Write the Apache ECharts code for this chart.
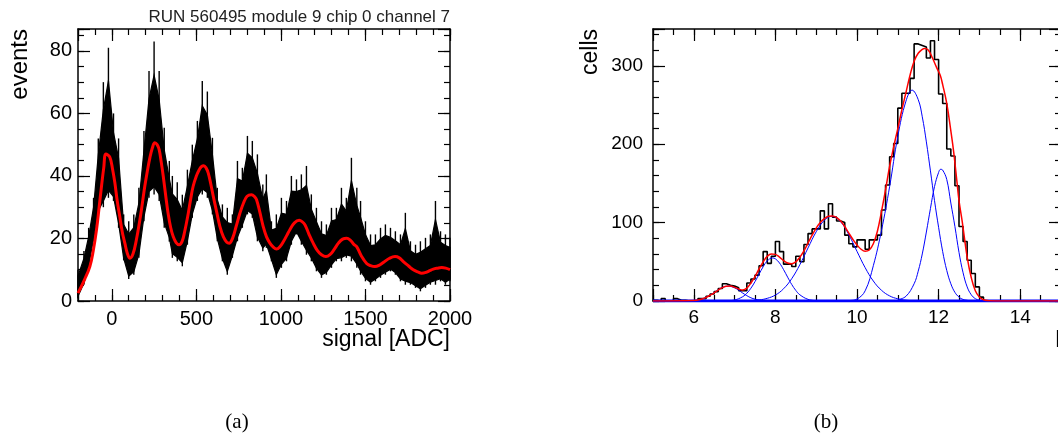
<!DOCTYPE html>
<html><head><meta charset="utf-8">
<script src="https://cdn.jsdelivr.net/npm/echarts@6/dist/echarts.min.js"></script>
<style>html,body{margin:0;padding:0;background:#fff}#c{width:1058px;height:437px}</style>
</head><body><div id="c"></div>
<script>
// ---------- Panel (a): noisy ADC spectrum (envelope per bin) ----------
const noiseX = [-200,-165,-137,-108,-80,-50,-20,10,40,70,100,130,160,190,220,250,280,310,340,
  358,387,417,447,476,506,535,565,595,624,654,683,713,743,772,802,831,861,893,
  914,944,973,1003,1033,1062,1092,1121,1151,1180,1210,1240,1269,1299,1328,1358,1387,1417,1449,
  1471,1500,1530,1559,1589,1618,1648,1677,1707,1736,1766,1796,1825,1855,1884,1914,1944,1973,2000];
const noiseHi = [10,16,23.4,33,52,70,81,60,52,27.7,25.5,27.7,36.2,54.4,73.6,83,73.6,55.4,44.8,
  40,38,34,42,50,57.6,70.4,67,52.2,36.2,30.9,29.8,27.7,44.8,42.6,52.8,51.2,46.9,37.3,
  40.5,25.5,27.7,33,32,40,38.9,40.5,43.2,34.1,29.8,25.5,24.5,29.8,29.8,36.2,33,45.8,36.2,
  32,25.5,21.3,21.3,23.4,24.5,23.4,22.3,21.3,28.2,19.1,18,19.1,20.2,21.3,32,22.3,21.3,20.2];
const noiseLo = [1,5.2,10.6,19.1,27.7,30,33,32,23.4,13,7,8.4,13.8,25.5,33,34.1,32,23.4,19,
  13.8,12.7,11.1,18,26.6,32,34.1,33,27.7,19.1,12.7,8.4,13.8,19.1,23.4,27.7,26.6,19.1,15.9,
  17,12.7,7.4,10.6,12.7,18,21.3,18,14.8,12.7,9.5,7.4,8.4,10.6,12.7,12.7,13.8,12.7,10.6,
  8.4,6.3,5.2,6.3,7.4,8.4,9.5,8.4,6.3,5.2,5.2,4.2,3.1,4.2,5.2,5.2,6.3,5.2,6.3];
// fit curve (red)
const fitAX = [-200,-160,-130,-110,-90,-75,-61,-48,-35,-12,5,18,32,47,62,77,92,107,125,145,166,180,195,210,225,240,254,268,280,292,304,318,333,348,363,380,398,415,430,452,466,481,500,517,530,544,558,570,585,600,620,639,660,680,694,715,736,757,780,800,826,845,856,875,895,915,935,955,974,995,1015,1035,1053,1080,1108,1125,1142,1165,1191,1215,1240,1266,1290,1315,1340,1365,1389,1410,1430,1448,1475,1507,1530,1556,1580,1610,1640,1675,1700,1724,1755,1783,1810,1832,1860,1880,1901,1925,1951,1975,2000];
const fitAY = [2.5,7,11,16,23,30,36.7,42.5,47,46,42,37.8,32,27,22,18.5,15.2,13.7,15,19.5,26,31,36.7,41.5,45.8,49,50.6,50,48.4,44.5,40,34,28,23.5,20.6,18.7,18,19,22,28,32.5,36.7,40,42,43,43.3,42.5,41,37.5,33.5,28.5,23.9,20.5,18.8,18.5,20.2,24,28,31.5,33.5,34,33.3,32.4,28.5,23.9,20.5,18.5,17.2,16.6,17.4,19,21,22.8,25,25.8,25.4,24.4,21.5,18.5,16.2,14.8,14.2,14.8,16.5,18.5,19.8,20.1,19.5,18.2,17.4,14.5,12,11.3,11,11.4,12.5,13.6,14.2,13.8,12.6,11.2,10,9.3,8.9,9.2,9.7,10.2,10.5,10.7,10.5,10];

// ---------- Panel (b): cells histogram + gaussian fits ----------
const histStart = 5.0, histBin = 0.1;
const histCounts = [1,0,3,0,0,3,1,1,0,0, 0,3,3,6,9,12,16,22,20,19, 17,13,13,23,28,33,45,63,48,57,
  76,63,47,47,44,57,50,72,86,92, 92,115,92,124,107,102,100,84,73,69,
  78,78,66,78,78,84,116,148,184,201, 246,265,265,284,328,326,324,310,332,308,
  264,252,194,185,147,95,76,52,35,18, 5,0,0,0,0,0,0,0,0,0, 0,0,0,0,0,0,0,0,0,0];
const fitBX = [5.0,6.0,6.2,6.3,6.4,6.5,6.6,6.7,6.8,6.9,7.0,7.1,7.2,7.3,7.4,7.5,7.6,7.7,7.8,7.9,8.0,8.1,8.2,8.3,8.4,8.5,8.6,8.7,8.8,8.9,9.0,9.1,9.2,9.3,9.4,9.5,9.6,9.7,9.8,9.9,10.0,10.1,10.2,10.3,10.4,10.5,10.6,10.7,10.8,10.9,11.0,11.1,11.2,11.3,11.4,11.5,11.6,11.66,11.75,11.85,11.95,12.04,12.1,12.2,12.3,12.37,12.45,12.5,12.58,12.7,12.8,12.9,13.0,13.1,13.25,13.4,15.0];
const fitBY = [0,0.6,2.6,4.6,7.4,10.5,14,17,18.8,19,17.4,15.2,14,16.5,23,31,41,50,57,60,59.5,56,51.5,48.5,47.5,50,56,64,74,84,93,100,105,108,108.5,106.5,102,95,86.5,78.5,71.5,66,63.5,65,73,89,114,142,172,197,220,244,266,288,306,316,321,322,320,310,298,288,276,252,217,190,152,128,101,56,30,13,5,1.5,0.2,0,0];
const g1X = [5.8,6.0,6.2,6.3,6.4,6.5,6.6,6.7,6.84,7.0,7.1,7.2,7.3,7.4,7.5,7.7,7.9];
const g1Y = [0.1,0.6,2.6,4.6,7.4,10.8,14.3,17.3,19,16.8,13.7,10.1,6.8,4.1,2.3,0.5,0.1];
const g2X = [6.8,7.0,7.2,7.3,7.4,7.5,7.6,7.7,7.8,7.93,8.0,8.1,8.2,8.3,8.4,8.5,8.6,8.8,9.0];
const g2Y = [0.2,1.3,5.5,9.9,16.3,24.7,34.3,43.7,51.1,55,53.8,48.5,40.1,30.4,21.1,13.5,7.9,2.1,0.4];
const g3X = [7.4,7.6,7.8,8.0,8.2,8.4,8.6,8.8,9.0,9.2,9.38,9.6,9.8,10.0,10.2,10.4,10.6,10.8,11.0,11.2,11.4];
const g3Y = [0.4,1.3,3.4,7.6,15.6,28.5,46.4,67.7,88.3,103,108,101,84.5,63.3,42.5,25.5,13.7,6.5,2.8,1.1,0.3];
const g4X = [9.6,9.8,10.0,10.2,10.4,10.6,10.8,11.0,11.2,11.35,11.5,11.6,11.7,11.8,11.9,12.0,12.1,12.2,12.3,12.4,12.5,12.6,12.8];
const g4Y = [0.1,0.5,2.5,13,45,90,146,210,255,269,257,235,203,166,128,94,63,39,22,11,5,2,0.2];
const g5X = [11.0,11.2,11.4,11.5,11.6,11.7,11.8,11.9,12.0,12.05,12.1,12.2,12.3,12.4,12.5,12.6,12.7,12.8,12.9,13.0,13.2];
const g5Y = [1.5,6,22,38,60,88,118,146,164,168,167,155,125,95,62,36,18,8,3,1,0.2];
const baseX = [5, 15];
const baseY = [0, 0];

// ---------- helpers ----------
const FONT = '"Liberation Sans", Arial, Helvetica, sans-serif';
const BLACK = '#000';
const pairs = (xs, ys) => xs.map((x, i) => [x, ys[i]]);

function makeAxes(kind, grid, min, max, majorInterval, minorInterval, label) {
  const positions = kind === 'x' ? ['bottom', 'top'] : ['left', 'right'];
  const out = [];
  positions.forEach((pos, k) => {
    const major = {
      type: 'value', gridIndex: grid, position: pos, min: min, max: max,
      axisLine: {show: true, onZero: false, lineStyle: {color: BLACK, width: 1.5}},
      axisTick: {show: true, inside: true, length: 12, lineStyle: {color: BLACK, width: 1.2}},
      splitLine: {show: false}, minorTick: {show: false},
      axisLabel: k === 0 ? {
        show: true, margin: label.margin, fontSize: label.size, fontFamily: FONT, color: BLACK,
        formatter: v => (Math.abs(v % label.step) < 1e-6 ? String(Math.round(v * 1000) / 1000) : '')
      } : {show: false}
    };
    if (majorInterval) major.interval = majorInterval; else major.splitNumber = 5;
    const minor = {
      type: 'value', gridIndex: grid, position: pos, min: min, max: max, interval: minorInterval,
      axisLine: {show: false, onZero: false},
      axisTick: {show: true, inside: true, length: 6, lineStyle: {color: BLACK, width: 1.2}},
      splitLine: {show: false}, axisLabel: {show: false}
    };
    out.push(major, minor);
  });
  return out;
}

const histData = histCounts.map((v, i) => [histStart + i * histBin, v]);
histData.push([histStart + histCounts.length * histBin, histCounts[histCounts.length - 1]]);

const blue = '#0000ff';
const gLine = (xs, ys) => ({
  type: 'line', xAxisIndex: 4, yAxisIndex: 4, data: pairs(xs, ys), smooth: 0.4,
  symbol: 'none', lineStyle: {color: blue, width: 1}, z: 3
});

// Noise drawn as a dense core (inner part of each bin's range) plus thin spikes reaching the extremes.
const noiseItems = noiseX.map((x, i) => [x, noiseLo[i], noiseHi[i]]);

const option = {
  animation: false,
  backgroundColor: '#fff',
  grid: [
    {left: 78, top: 29, width: 372, height: 272, outerBoundsMode: 'none', containLabel: false},
    {left: 653, top: 29, width: 408, height: 272, outerBoundsMode: 'none', containLabel: false}
  ],
  xAxis: [].concat(
    makeAxes('x', 0, -200, 2000, null, 100, {margin: 8, size: 20, step: 500}),
    makeAxes('x', 1, 5, 15, null, 0.5, {margin: 7, size: 19, step: 2})
  ),
  yAxis: [].concat(
    makeAxes('y', 0, 0, 87, 20, 5, {margin: 6, size: 20, step: 20}),
    makeAxes('y', 1, 0, 347, 100, 20, {margin: 10, size: 19, step: 100})
  ),
  series: [
    {
      // core band: one polygon through all bins
      type: 'custom', xAxisIndex: 0, yAxisIndex: 0, data: [[0]], z: 2,
      renderItem: function (params, api) {
        const top = [], bot = [];
        for (let i = 0; i < noiseItems.length; i++) {
          const [x, lo, hi] = noiseItems[i];
          const r = hi - lo;
          top.push(api.coord([x, hi - 0.22 * r]));
          bot.push(api.coord([x, lo + 0.05 * r]));
        }
        return {type: 'polygon', shape: {points: top.concat(bot.reverse())},
          style: {fill: '#000', stroke: '#000', lineWidth: 1.2}};
      }
    },
    {
      // spikes: each bin's full range
      type: 'custom', xAxisIndex: 0, yAxisIndex: 0, data: noiseItems, z: 2,
      renderItem: function (params, api) {
        const x = api.value(0);
        const p1 = api.coord([x, api.value(1)]);
        const p2 = api.coord([x, api.value(2)]);
        return {type: 'line', shape: {x1: p1[0], y1: p1[1], x2: p2[0], y2: p2[1]},
          style: {stroke: '#000', lineWidth: 1.4}};
      }
    },
    {
      type: 'line', xAxisIndex: 0, yAxisIndex: 0, data: pairs(fitAX, fitAY), smooth: 0.4,
      symbol: 'none', lineStyle: {color: '#ff0000', width: 3}, z: 4
    },
    {
      type: 'line', xAxisIndex: 4, yAxisIndex: 4, data: histData, step: 'end',
      symbol: 'none', lineStyle: {color: '#000', width: 1.6}, z: 2
    },
    gLine(g1X, g1Y), gLine(g2X, g2Y), gLine(g3X, g3Y), gLine(g4X, g4Y), gLine(g5X, g5Y),
    {
      type: 'line', xAxisIndex: 4, yAxisIndex: 4, data: pairs(baseX, baseY),
      symbol: 'none', lineStyle: {color: blue, width: 3}, z: 3
    },
    {
      type: 'line', xAxisIndex: 4, yAxisIndex: 4, data: pairs(fitBX, fitBY), smooth: 0.4,
      symbol: 'none', lineStyle: {color: '#ff0000', width: 1.5}, z: 4
    }
  ],
  graphic: [
    {type: 'text', x: 450, y: 17, style: {text: 'RUN 560495 module 9 chip 0 channel 7', fill: '#222',
      font: '17px "Liberation Sans", Arial, sans-serif', align: 'right', verticalAlign: 'middle'}},
    {type: 'text', x: 20, y: 29, rotation: Math.PI / 2, style: {text: 'events', fill: '#000',
      font: '24px "Liberation Sans", Arial, sans-serif', align: 'right', verticalAlign: 'middle'}},
    {type: 'text', x: 450, y: 340, style: {text: 'signal [ADC]', fill: '#000',
      font: '23px "Liberation Sans", Arial, sans-serif', align: 'right', verticalAlign: 'middle'}},
    {type: 'text', x: 591, y: 29, rotation: Math.PI / 2, style: {text: 'cells', fill: '#000',
      font: '23px "Liberation Sans", Arial, sans-serif', align: 'right', verticalAlign: 'middle'}},
    {type: 'text', x: 1055, y: 341, style: {text: 'E', fill: '#000',
      font: '23px "Liberation Sans", Arial, sans-serif', align: 'left', verticalAlign: 'middle'}},
    {type: 'text', x: 237, y: 422, style: {text: '(a)', fill: '#000',
      font: '21px "Liberation Serif", "DejaVu Serif", serif', align: 'center', verticalAlign: 'middle'}},
    {type: 'text', x: 826, y: 422, style: {text: '(b)', fill: '#000',
      font: '21px "Liberation Serif", "DejaVu Serif", serif', align: 'center', verticalAlign: 'middle'}}
  ]
};

const chart = echarts.init(document.getElementById('c'), null, {renderer: 'canvas', width: 1058, height: 437});
chart.setOption(option);
</script></body></html>
